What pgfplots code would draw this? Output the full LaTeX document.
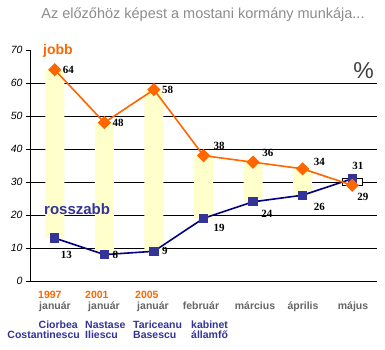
\documentclass[border=0pt]{standalone}
\usepackage{pgfplots}
\pgfplotsset{compat=1.18}
\usepackage{fontspec}
\setmainfont{Liberation Sans}
\newfontfamily\lserif{Liberation Serif}
\definecolor{jobbc}{HTML}{FF6600}
\definecolor{rosszc}{HTML}{000080}
\definecolor{rosszm}{HTML}{333399}
\definecolor{barc}{HTML}{FFFFCC}
\definecolor{graytxt}{HTML}{8C8C8C}
\definecolor{monthc}{HTML}{666666}
\definecolor{pctc}{HTML}{404040}
\pgfplotsset{
  base/.style={scale only axis, width=347pt, height=231pt,
    xmin=-0.5, xmax=6.5, ymin=0, ymax=70,
    at={(30pt,69pt)}, anchor=south west, clip=false},
  hiddenax/.style={base, axis line style={draw=none}, xtick=\empty,
    yticklabels={}, major tick length=0pt}
}
\begin{document}
\begin{tikzpicture}[x=1pt,y=1pt]
\fill[white] (0,0) rectangle (385,350);
\useasboundingbox (0,0) rectangle (385,350);
% grid + yellow floating bars
\begin{axis}[hiddenax, ytick={10,20,...,60}, ymajorgrids,
  grid style={black, line width=0.8pt}, ybar stacked, bar width=19pt]
\addplot[draw=none, fill=none] coordinates {(0,13) (1,8) (2,9) (3,19) (4,24) (5,26)};
\addplot[draw=none, fill=barc] coordinates {(0,51) (1,40) (2,49) (3,19) (4,12) (5,8)};
\end{axis}
% white down bar (majus)
\begin{axis}[hiddenax, ytick=\empty, ybar stacked, bar width=20pt]
\addplot[draw=none, fill=none] coordinates {(6,29)};
\addplot[draw=black, fill=white, line width=0.8pt] coordinates {(6,2)};
\end{axis}
% main axis with lines
\begin{axis}[base,
  axis x line=bottom, axis y line=left,
  axis line style={-, black, line width=0.8pt},
  ytick={0,10,...,70},
  /pgf/number format/assume math mode=true,
  yticklabel style={font=\itshape\fontsize{10.5}{12}\selectfont, black},
  xtick=\empty,
  minor xtick={-0.5,0.5,...,6.5},
  minor tick length=4pt,
  tick align=outside, major tick length=4pt,
  tick style={black, line width=0.8pt}]
\addplot[rosszc, line width=1.6pt, mark=square*, mark size=3.8pt,
  mark options={fill=rosszm, draw=rosszm}]
  coordinates {(0,13) (1,8) (2,9) (3,19) (4,24) (5,26) (6,31)};
\addplot[jobbc, line width=1.6pt, mark=square*, mark size=3.9pt,
  mark options={fill=jobbc, draw=jobbc, rotate=45}]
  coordinates {(0,64) (1,48) (2,58) (3,38) (4,36) (5,34) (6,29)};
\begin{scope}[every node/.style={font=\lserif\bfseries\fontsize{11}{12}\selectfont, inner sep=0pt}]
% jobb labels
\node[anchor=west] at ([xshift=8pt]axis cs:0,64) {64};
\node[anchor=west] at ([xshift=8pt]axis cs:1,48) {48};
\node[anchor=west] at ([xshift=8pt]axis cs:2,58) {58};
\node[anchor=west] at ([xshift=10pt,yshift=10pt]axis cs:3,38) {38};
\node[anchor=west] at ([xshift=9pt,yshift=9pt]axis cs:4,36) {36};
\node[anchor=west] at ([xshift=11pt,yshift=7pt]axis cs:5,34) {34};
\node[anchor=west] at ([xshift=5pt,yshift=-12pt]axis cs:6,29) {29};
% rosszabb labels
\node[anchor=west] at ([xshift=6pt,yshift=-17pt]axis cs:0,13) {13};
\node[anchor=west] at ([xshift=8pt]axis cs:1,8) {8};
\node[anchor=west] at ([xshift=8pt]axis cs:2,9) {9};
\node[anchor=west] at ([xshift=10pt,yshift=-10pt]axis cs:3,19) {19};
\node[anchor=west] at ([xshift=8pt,yshift=-12pt]axis cs:4,24) {24};
\node[anchor=west] at ([xshift=11pt,yshift=-12pt]axis cs:5,26) {26};
\node[anchor=west] at ([xshift=0pt,yshift=13pt]axis cs:6,31) {31};
\end{scope}
\end{axis}
% texts
\node[anchor=base, inner sep=0pt, font=\fontsize{14.5}{16}\selectfont, text=graytxt] at (203,331.7) {Az előzőhöz képest a mostani kormány munkája...};
\node[anchor=base west, inner sep=0pt, font=\bfseries\fontsize{14}{16}\selectfont, text=jobbc] at (43,295.5) {jobb};
\node[anchor=base west, inner sep=0pt, font=\bfseries\fontsize{15}{17}\selectfont, text=rosszm] at (44,135) {rosszabb};
\node[anchor=base east, inner sep=0pt, font=\fontsize{23}{26}\selectfont, text=pctc] at (374,271.7) {\%};
\begin{scope}[every node/.style={inner sep=0pt, font=\bfseries\fontsize{10.5}{12}\selectfont}]
\node[anchor=base west, text=jobbc] at (38,51.5) {1997};
\node[anchor=base west, text=jobbc] at (85,51.5) {2001};
\node[anchor=base west, text=jobbc] at (135,51.5) {2005};
\node[anchor=base, text=monthc] at (55,40) {január};
\node[anchor=base, text=monthc] at (104,40) {január};
\node[anchor=base, text=monthc] at (153,40) {január};
\node[anchor=base, text=monthc] at (201,40) {február};
\node[anchor=base, text=monthc] at (255,40) {március};
\node[anchor=base, text=monthc] at (303,40) {április};
\node[anchor=base, text=monthc] at (353,40) {május};
\node[anchor=base east, text=rosszm] at (78,21.7) {Ciorbea};
\node[anchor=base east, text=rosszm] at (80,11.7) {Costantinescu};
\node[anchor=base west, text=rosszm] at (85,21.7) {Nastase};
\node[anchor=base west, text=rosszm] at (85,11.7) {Iliescu};
\node[anchor=base west, text=rosszm] at (133,21.7) {Tariceanu};
\node[anchor=base west, text=rosszm] at (133,11.7) {Basescu};
\node[anchor=base west, text=rosszm] at (191,21.7) {kabinet};
\node[anchor=base west, text=rosszm] at (191,11.7) {államfő};
\end{scope}
\end{tikzpicture}
\end{document}
